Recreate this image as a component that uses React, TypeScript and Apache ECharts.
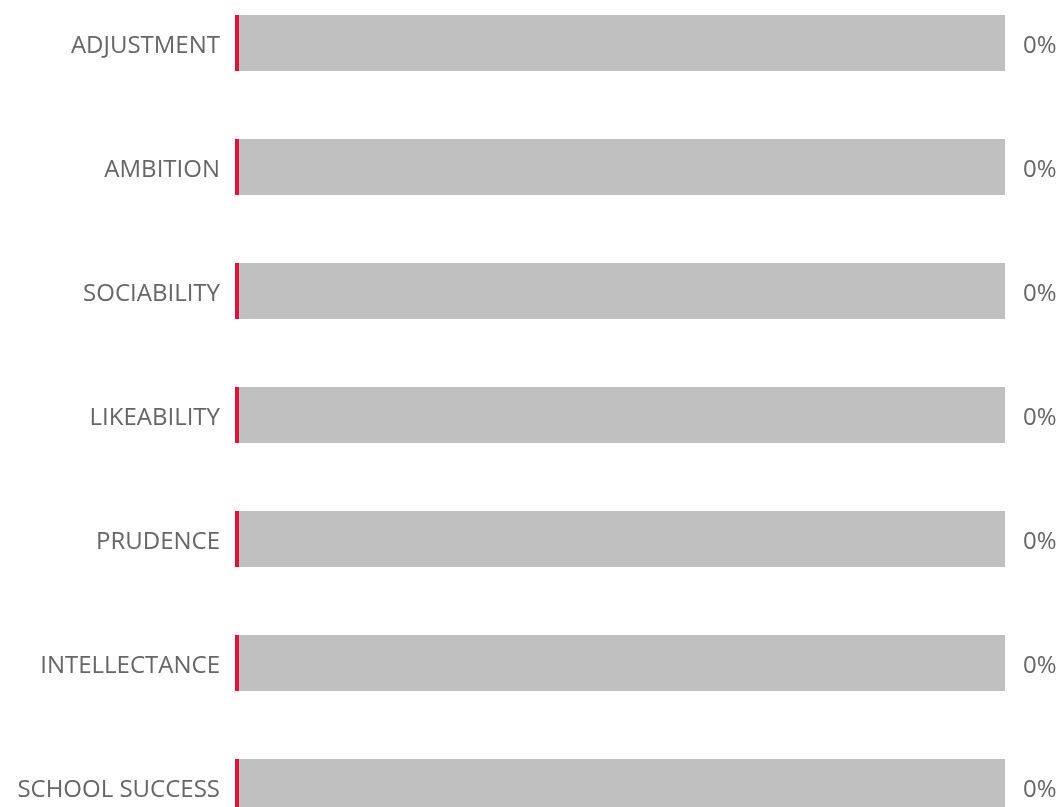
import React, { useEffect, useRef } from "react";
import * as echarts from "echarts";

const categories = [
  "ADJUSTMENT",
  "AMBITION",
  "SOCIABILITY",
  "LIKEABILITY",
  "PRUDENCE",
  "INTELLECTANCE",
  "SCHOOL SUCCESS",
];
const scores = [0, 0, 0, 0, 0, 0, 0];
const fullScale = [100, 100, 100, 100, 100, 100, 100];

const FONT = "Open Sans";

export default function App() {
  const ref = useRef<HTMLDivElement>(null);
  useEffect(() => {
    if (!ref.current) return;
    const chart = echarts.init(ref.current, undefined, { renderer: "svg" });
    chart.setOption({
      animation: false,
      textStyle: { fontFamily: FONT },
      grid: { left: 235, right: 57, top: 0, bottom: 0, containLabel: false },
      xAxis: { type: "value", min: 0, max: 100, show: false },
      yAxis: {
        type: "category",
        data: categories,
        inverse: true,
        axisLine: { show: false },
        axisTick: { show: false },
        axisLabel: {
          color: "#666",
          fontSize: 24,
          margin: 15,
          fontFamily: FONT,
          padding: [0, 0, 4, 0],
        },
      },
      series: [
        {
          type: "bar",
          data: fullScale,
          barWidth: 56,
          itemStyle: { color: "#c0c0c0" },
          label: {
            show: true,
            position: "right",
            distance: 18,
            color: "#666",
            fontSize: 24,
            fontFamily: FONT,
            padding: [0, 0, 4, 0],
            formatter: (p: any) => scores[p.dataIndex] + "%",
          },
          silent: true,
        },
        {
          type: "bar",
          data: scores,
          barWidth: 56,
          barGap: "-100%",
          barMinHeight: 4,
          itemStyle: { color: "#dc143c" },
        },
      ],
    });
    return () => chart.dispose();
  }, []);
  return (
    <div
      ref={ref}
      style={{ position: "fixed", left: 0, top: -19, width: 1062, height: 868 }}
    />
  );
}
